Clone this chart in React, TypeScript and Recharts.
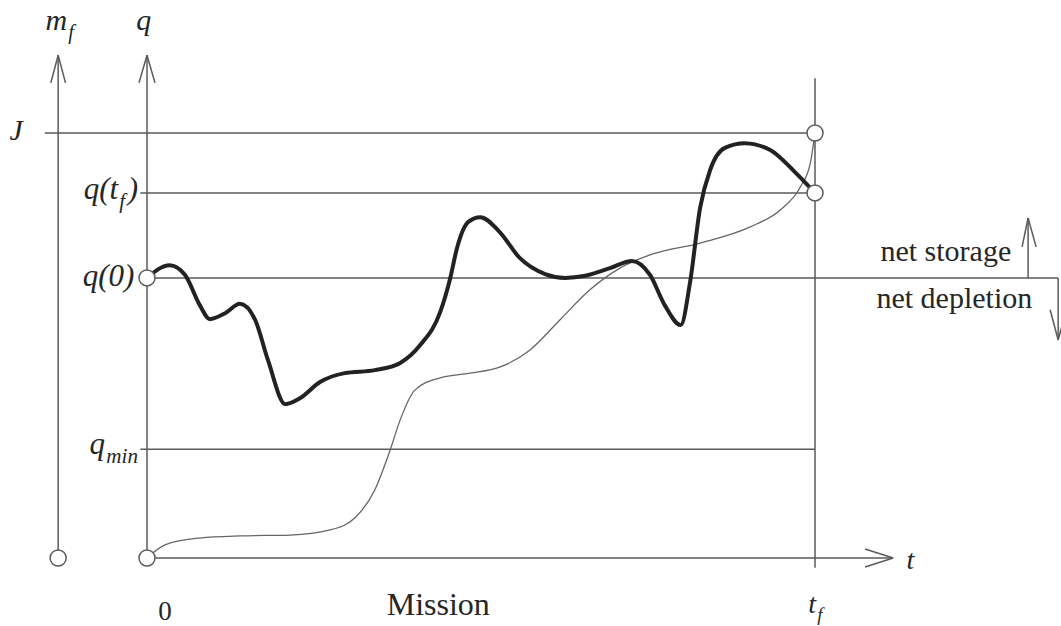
import React from "react"
import { ComposedChart, Line, Scatter, XAxis, YAxis, ReferenceLine, ReferenceDot } from "recharts"

// units: t runs 0..100 over the mission (t_f = 100), q runs 0..100 (J = 100)
const storage = [
  { t: 0, q: 65.9 }, { t: 3.4, q: 68.9 }, { t: 5.7, q: 66.6 }, { t: 7.9, q: 59.5 },
  { t: 9.4, q: 56.2 }, { t: 11.7, q: 57.6 }, { t: 13.9, q: 59.8 }, { t: 16.2, q: 56.0 },
  { t: 18.1, q: 46.6 }, { t: 20.7, q: 36.2 }, { t: 22.9, q: 37.6 }, { t: 25.9, q: 41.4 },
  { t: 29.6, q: 43.5 }, { t: 34.1, q: 44.2 }, { t: 37.9, q: 45.9 }, { t: 40.9, q: 50.1 },
  { t: 43.9, q: 57.9 }, { t: 45.4, q: 65.9 }, { t: 46.4, q: 72.9 }, { t: 48.1, q: 79.1 },
  { t: 49.9, q: 80.2 }, { t: 52.8, q: 76.7 }, { t: 55.8, q: 70.6 }, { t: 59.6, q: 66.8 },
  { t: 62.6, q: 65.9 }, { t: 65.6, q: 66.4 }, { t: 69.3, q: 68.2 }, { t: 72.6, q: 69.9 },
  { t: 75.3, q: 66.6 }, { t: 77.5, q: 59.5 }, { t: 79.9, q: 54.8 }, { t: 81.3, q: 64.9 },
  { t: 82.8, q: 82.4 }, { t: 84.3, q: 91.3 }, { t: 86.5, q: 96.5 }, { t: 89.5, q: 97.6 },
  { t: 93.3, q: 96.0 }, { t: 97.0, q: 90.8 }, { t: 100, q: 85.9 },
]

const fuel = [
  { t: 0, q: 0 }, { t: 2.7, q: 3.1 }, { t: 7.9, q: 4.7 }, { t: 13.9, q: 5.2 },
  { t: 21.4, q: 5.4 }, { t: 27.4, q: 6.6 }, { t: 31.1, q: 9.4 }, { t: 34.1, q: 16.0 },
  { t: 36.4, q: 25.4 }, { t: 37.9, q: 32.5 }, { t: 40.1, q: 39.5 }, { t: 43.9, q: 42.4 },
  { t: 48.4, q: 43.5 }, { t: 52.8, q: 44.9 }, { t: 57.3, q: 48.9 }, { t: 61.8, q: 56.0 },
  { t: 66.3, q: 63.1 }, { t: 70.8, q: 68.2 }, { t: 75.3, q: 71.3 }, { t: 82.8, q: 74.1 },
  { t: 90.3, q: 77.9 }, { t: 94.8, q: 81.9 }, { t: 97.8, q: 87.3 }, { t: 99.3, q: 92.9 },
  { t: 100, q: 100 },
]

const T_F = 100
const J = 100
const Q_TF = 85.9
const Q_0 = 65.9
const Q_MIN = 25.6
const MF_AXIS = -13.3

// open circles at the ends of the curves and axes
const rings = [
  { t: MF_AXIS, q: 0 },
  { t: 0, q: 0 },
  { t: 0, q: Q_0 },
  { t: T_F, q: J },
  { t: T_F, q: Q_TF },
]

const LINE = "#5a5a5a"
const INK = "#262626"
const FONT = "'Liberation Serif', 'Times New Roman', serif"

type Part = { s: string; sub?: boolean; it?: boolean }

const label = (parts: Part[], anchor: "start" | "middle" | "end", size: number) => (props: any) => {
  const { x, y } = props.viewBox
  return (
    <text x={x} y={y} textAnchor={anchor} fontFamily={FONT} fontSize={size} fill={INK}>
      {parts.map((p, i) => {
        const prev = i > 0 ? parts[i - 1] : null
        const dy = p.sub && !prev?.sub ? size * 0.28 : !p.sub && prev?.sub ? -size * 0.28 : 0
        const dx = p.sub ? size * 0.04 : prev?.sub ? size * 0.08 : 0
        return (
          <tspan key={i} dx={dx} dy={dy} fontSize={p.sub ? size * 0.68 : size} fontStyle={p.it ? "italic" : "normal"}>
            {p.s}
          </tspan>
        )
      })}
    </text>
  )
}

const seg = (x1: number, y1: number, x2: number, y2: number, w = 1.5) => (
  <ReferenceLine
    key={`${x1}-${y1}-${x2}-${y2}`}
    segment={[{ x: x1, y: y1 }, { x: x2, y: y2 }]}
    stroke={LINE}
    strokeWidth={w}
    ifOverflow="hidden"
  />
)

const text = (x: number, y: number, parts: Part[], anchor: "start" | "middle" | "end", size: number) => (
  <ReferenceDot key={`t${x}-${y}`} x={x} y={y} r={0} fill="none" stroke="none" ifOverflow="visible"
    label={{ content: label(parts, anchor, size) }} />
)

const Ring = (p: any) => <circle cx={p.cx} cy={p.cy} r={8} fill="#fff" stroke={LINE} strokeWidth={1.5} />

export default function App() {
  return (
    <div style={{ position: "absolute", left: 0, top: 0, background: "#fff" }}>
      <ComposedChart width={1061} height={626} margin={{ top: 0, right: 0, bottom: 0, left: 0 }}>
        <XAxis dataKey="t" type="number" domain={[-22.006, 136.826]} allowDataOverflow hide />
        <YAxis type="number" domain={[-16, 131.294]} allowDataOverflow hide />

        {/* axes */}
        {seg(MF_AXIS, 0, MF_AXIS, 118.3)}
        {seg(MF_AXIS, 118.3, MF_AXIS - 1.1, 111.8)}
        {seg(MF_AXIS, 118.3, MF_AXIS + 1.1, 111.8)}
        {seg(0, 0, 0, 118.3)}
        {seg(0, 118.3, -1.2, 111.8)}
        {seg(0, 118.3, 1.2, 111.8)}
        {seg(0, 0, 111.7, 0)}
        {seg(111.7, 0, 107.5, 2.1)}
        {seg(111.7, 0, 107.5, -2.1)}
        {seg(T_F, -2.3, T_F, 112.9)}

        {/* levels */}
        {seg(-15.3, J, T_F, J)}
        {seg(-1.0, Q_TF, T_F, Q_TF)}
        {seg(0, Q_0, 136.4, Q_0)}
        {seg(-1.0, Q_MIN, T_F, Q_MIN)}

        {/* storage / depletion arrows */}
        {seg(131.9, Q_0, 131.9, 80)}
        {seg(131.9, 80, 131.0, 73.2)}
        {seg(131.9, 80, 133.1, 73.2)}
        {seg(136.4, Q_0, 136.4, 51.3)}
        {seg(136.4, 51.3, 135.2, 58.4)}
        {seg(136.4, 51.3, 137.6, 58.4)}

        {text(-15.2, 124.2, [{ s: "m", it: true }, { s: "f", it: true, sub: true }], "start", 30)}
        {text(-1.6, 124.2, [{ s: "q", it: true }], "start", 30)}
        {text(-20.6, 98.3, [{ s: "J", it: true }], "start", 30)}
        {text(-1.35, 84.4, [{ s: "q(t", it: true }, { s: "f", it: true, sub: true }, { s: ")", it: true }], "end", 31)}
        {text(-1.9, 63.9, [{ s: "q(0)", it: true }], "end", 31)}
        {text(-1.35, 24.4, [{ s: "q", it: true }, { s: "min", it: true, sub: true }], "end", 31)}
        {text(2.7, -14.6, [{ s: "0" }], "middle", 27)}
        {text(43.6, -13.4, [{ s: "Mission" }], "middle", 32)}
        {text(99.0, -12.9, [{ s: "t", it: true }, { s: "f", it: true, sub: true }], "start", 28)}
        {text(113.7, -2.6, [{ s: "t", it: true }], "start", 28)}
        {text(109.8, 69.9, [{ s: "net storage" }], "start", 30)}
        {text(109.2, 58.8, [{ s: "net depletion" }], "start", 30)}

        <Line data={fuel} dataKey="q" type="monotone" stroke="#666" strokeWidth={1.3} dot={false} isAnimationActive={false} />
        <Line data={storage} dataKey="q" type="monotone" stroke="#222" strokeWidth={4} dot={false} isAnimationActive={false} />
        <Scatter data={rings} dataKey="q" shape={Ring} isAnimationActive={false} />
      </ComposedChart>
    </div>
  )
}
